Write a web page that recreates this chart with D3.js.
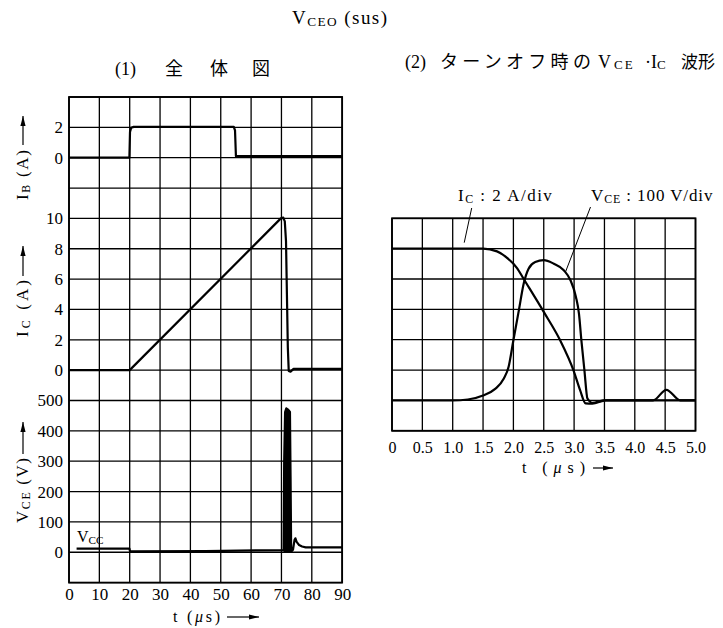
<!DOCTYPE html>
<html>
<head>
<meta charset="utf-8">
<script src="https://cdn.jsdelivr.net/npm/d3@7"></script>
<style>
  body { margin: 0; background: #fff; }
  svg text { font-family: "Liberation Serif", "Times New Roman", Times, "DejaVu Serif", serif; fill: #000; }
  svg .jp { font-family: "Noto Sans CJK JP", sans-serif; }
</style>
</head>
<body>
<script>
// (1) whole view, t in us
const leftTimeTicks = [0, 10, 20, 30, 40, 50, 60, 70, 80, 90]
const ibTicks = [0, 2]
const icTicks = [0, 2, 4, 6, 8, 10]
const vceTicks = [0, 100, 200, 300, 400, 500]

const ibTime = [0, 19.9, 20.1, 20.5, 21.3, 54.3, 54.7, 55.0, 90]
const ibAmp  = [0, 0, 1.7, 1.97, 2.03, 2.03, 1.8, 0.1, 0.1]

const icTime = [0, 20, 69.8, 70.6, 71.1, 71.5, 71.8, 72.1, 72.4, 73.0, 74.0, 90]
const icAmp  = [0, 0, 10, 10.05, 9.8, 8.5, 5, 1.5, -0.05, -0.1, 0.08, 0.08]

const vceTime = [2.5, 19.9, 20.1, 45, 70.7, 70.9, 71.2, 71.6, 72.2, 72.8, 73.0, 73.2, 73.8, 74.3, 74.6, 75.0, 75.8, 76.8, 78.0, 90]
const vceVolt = [12, 12, 3, 4, 7, 300, 462, 474, 470, 462, 250, 2, 8, 40, 46, 34, 24, 19, 16, 16]

// (2) turn-off waveforms, t in us
const rightTimeTicks = [0, 0.5, 1.0, 1.5, 2.0, 2.5, 3.0, 3.5, 4.0, 4.5, 5.0]
const rightTickLabels = ["0", "0.5", "1.0", "1.5", "2.0", "2.5", "3.0", "3.5", "4.0", "4.5", "5.0"]

const offIcTime = [0, 1.5, 1.73, 1.9, 2.06, 2.17, 2.5, 2.77, 2.99, 3.1, 3.19, 3.3, 3.52, 5.0]
const offIcAmp  = [10, 10, 9.82, 9.38, 8.72, 8.0, 5.83, 3.96, 1.98, 0.66, -0.2, -0.22, 0, 0]

const offVceTime = [0, 1.0, 1.25, 1.5, 1.7, 1.84, 1.92, 2.0, 2.09, 2.17, 2.25, 2.36, 2.5, 2.66, 2.83, 2.94, 3.03, 3.08, 3.12, 3.17, 3.22, 3.3, 3.5, 4.3, 4.52, 4.75, 5.0]
const offVceVolt = [0, 0, 3, 16, 38, 71, 110, 198, 297, 385, 434, 456, 462, 451, 429, 396, 341, 286, 198, 99, 6, -8, 0, 0, 35, 0, 0]

const width = 723, height = 628
const cell = 30.35
const serif = "'Liberation Serif', 'Times New Roman', Times, 'DejaVu Serif', serif"

const svg = d3.select("body")
              .append("svg")
                  .attr("width", width)
                  .attr("height", height)
                  .attr("font-family", serif)

svg.append("defs")
   .append("marker")
       .attr("id", "arrowHead")
       .attr("viewBox", "0 -3 10 6")
       .attr("refX", 10)
       .attr("refY", 0)
       .attr("orient", "auto")
       .attr("markerUnits", "userSpaceOnUse")
       .attr("markerWidth", 10)
       .attr("markerHeight", 6)
   .append("path")
       .attr("d", "M 0,-2.6 L 10,0 L 0,2.6 Z")
       .attr("fill", "#000")

// text with small subscripts
function rich(text, parts, size) {
    let shift = 0
    parts.forEach(([s, sub]) => {
        const d = sub ? 1.5 : 0
        text.append("tspan")
            .attr("font-size", sub ? size * 0.7 : size)
            .attr("dy", d - shift)
            .text(s)
        shift = d
    })
    return text
}

// scales
const xL = d3.scaleLinear().domain([0, 90]).range([69, 69 + 9 * cell])
const rowL = d3.scaleLinear().domain([0, 16]).range([97, 97 + 16 * cell])
const yIB = d3.scaleLinear().domain([0, 2]).range([rowL(2), rowL(1)])
const yIC = d3.scaleLinear().domain([0, 10]).range([rowL(9), rowL(4)])
const yVCE = d3.scaleLinear().domain([0, 500]).range([rowL(15), rowL(10)])

const xR = d3.scaleLinear().domain([0, 5]).range([392, 392 + 10 * cell])
const rowR = d3.scaleLinear().domain([0, 7]).range([218.3, 218.3 + 7 * cell])
const yRI = d3.scaleLinear().domain([0, 10]).range([rowR(6), rowR(1)])
const yRV = d3.scaleLinear().domain([0, 500]).range([rowR(6), rowR(1)])

function grid(xs, xTicks, rows, nRows) {
    const g = svg.append("g")
    g.selectAll(".v")
        .data(xTicks)
        .enter()
        .append("line")
            .attr("x1", d => xs(d)).attr("x2", d => xs(d))
            .attr("y1", rows(0)).attr("y2", rows(nRows))
            .attr("stroke", "#000")
            .attr("stroke-width", 1.3)
    g.selectAll(".h")
        .data(d3.range(nRows + 1))
        .enter()
        .append("line")
            .attr("x1", xs.range()[0]).attr("x2", xs.range()[1])
            .attr("y1", d => rows(d)).attr("y2", d => rows(d))
            .attr("stroke", "#000")
            .attr("stroke-width", 1.3)
    g.append("rect")
        .attr("x", xs.range()[0]).attr("y", rows(0))
        .attr("width", xs.range()[1] - xs.range()[0])
        .attr("height", rows(nRows) - rows(0))
        .attr("fill", "none")
        .attr("stroke", "#000")
        .attr("stroke-width", 1.8)
}

grid(xL, leftTimeTicks, rowL, 16)
grid(xR, rightTimeTicks, rowR, 7)

// axes (labels only)
function styleAxis(g, size) {
    g.select(".domain").remove()
    g.attr("font-family", serif).attr("font-size", size)
    g.selectAll("text").attr("fill", "#000")
}

svg.append("g")
    .attr("transform", "translate(0," + rowL(16) + ")")
    .call(d3.axisBottom(xL).tickValues(leftTimeTicks).tickSize(0).tickPadding(5))
    .call(g => styleAxis(g, 17))

svg.append("g")
    .attr("transform", "translate(0," + rowR(7) + ")")
    .call(d3.axisBottom(xR).tickValues(rightTimeTicks).tickSize(0).tickPadding(10.5)
            .tickFormat((d, i) => rightTickLabels[i]))
    .call(g => styleAxis(g, 16))

const leftAxes = [[yIB, ibTicks], [yIC, icTicks], [yVCE, vceTicks]]
leftAxes.forEach(([ys, ticks]) => {
    svg.append("g")
        .attr("transform", "translate(" + xL(0) + ",0)")
        .call(d3.axisLeft(ys).tickValues(ticks).tickSize(0).tickPadding(6).tickFormat(d3.format("d")))
        .call(g => styleAxis(g, 17))
})

// curves
const lineL = (ys) => d3.line().x(d => xL(d[0])).y(d => ys(d[1]))
const lineR = (ys) => d3.line().x(d => xR(d[0])).y(d => ys(d[1])).curve(d3.curveMonotoneX)

const ibPts = d3.zip(ibTime, ibAmp)
const icPts = d3.zip(icTime, icAmp)
const vcePts = d3.zip(vceTime, vceVolt)

const curves = [
    [ibPts, lineL(yIB)],
    [icPts, lineL(yIC)],
    [vcePts, lineL(yVCE)],
    [d3.zip(offIcTime, offIcAmp), lineR(yRI)],
    [d3.zip(offVceTime, offVceVolt), lineR(yRV)]
]

svg.selectAll(".curve")
    .data(curves)
    .enter()
    .append("path")
        .attr("class", "curve")
        .attr("fill", "none")
        .attr("stroke", "#000")
        .attr("stroke-width", 2.2)
        .attr("stroke-linejoin", "round")
        .attr("d", d => d[1](d[0]))

// the fast oscillation at turn-off prints as a solid spike
svg.append("path")
    .attr("fill", "#000")
    .attr("d", d3.area()
        .x(d => xL(d[0]))
        .y0(yVCE(0))
        .y1(d => yVCE(d[1]))(vcePts.filter(d => d[0] >= 70.7 && d[0] <= 73.2)))

// titles
rich(svg.append("text").attr("x", 292).attr("y", 24).attr("textLength", 95),
     [["V"], ["CEO", 1], [" (sus)"]], 19)

const sub1 = svg.append("text").attr("y", 75).attr("font-size", 18)
sub1.append("tspan").attr("x", 115).text("(1)")
sub1.append("tspan").attr("x", 165).attr("class", "jp").text("全")
sub1.append("tspan").attr("x", 210).attr("class", "jp").text("体")
sub1.append("tspan").attr("x", 252).attr("class", "jp").text("図")

const sub2 = svg.append("text").attr("y", 68).attr("font-size", 18)
sub2.append("tspan").attr("x", 405).text("(2)")
sub2.append("tspan").attr("x", 440).attr("class", "jp").attr("letter-spacing", 4.3).text("ターンオフ時の")
sub2.append("tspan").attr("x", 598).text("V")
sub2.append("tspan").attr("x", 614).attr("dy", 1).attr("font-size", 13).attr("letter-spacing", 2).text("CE")
sub2.append("tspan").attr("x", 645).attr("dy", -1).text("·I")
sub2.append("tspan").attr("dy", 1).attr("font-size", 13).text("C")
sub2.append("tspan").attr("x", 681).attr("dy", -1).attr("class", "jp").attr("font-size", 17).text("波形")

// annotations in (2)
rich(svg.append("text").attr("x", 458).attr("y", 201).attr("letter-spacing", 1.5),
     [["I"], ["C", 1], [" : 2 A/div"]], 17)
rich(svg.append("text").attr("x", 591).attr("y", 201).attr("letter-spacing", 0.9),
     [["V"], ["CE", 1], [" : 100 V/div"]], 17)

const pointers = [
    [[471.7, 208], [xR(1.19), yRI(10) - 6]],
    [[590.5, 207], [xR(2.86), yRV(424)]]
]
svg.selectAll(".pointer")
    .data(pointers)
    .enter()
    .append("line")
        .attr("x1", d => d[0][0]).attr("y1", d => d[0][1])
        .attr("x2", d => d[1][0]).attr("y2", d => d[1][1])
        .attr("stroke", "#000")
        .attr("stroke-width", 1)

rich(svg.append("text").attr("x", 77).attr("y", 542), [["V"], ["CC", 1]], 16)

// axis titles with arrows
function axisTitle(x, y, rot, parts, len, gap, arrow) {
    const g = svg.append("g").attr("transform", "translate(" + x + "," + y + ") rotate(" + rot + ")")
    rich(g.append("text").attr("textLength", len), parts, 17)
    g.append("line")
        .attr("x1", len + gap).attr("x2", len + gap + arrow)
        .attr("y1", -5).attr("y2", -5)
        .attr("stroke", "#000")
        .attr("stroke-width", 1.2)
        .attr("marker-end", "url(#arrowHead)")
}

axisTitle(28, 200, -90, [["I"], ["B", 1], [" (A)"]], 50, 5, 29)
axisTitle(28, 337, -90, [["I"], ["C", 1], [" (A)"]], 57, 4, 30)
axisTitle(28, 523, -90, [["V"], ["CE", 1], [" (V)"]], 65, 4, 32)

function timeTitle(x, y, len, gap, arrow) {
    const t = svg.append("text").attr("x", x).attr("y", y).attr("font-size", 16).attr("textLength", len)
    t.append("tspan").text("t (")
    t.append("tspan").attr("font-style", "italic").text("μ")
    t.append("tspan").text("s)")
    svg.append("line")
        .attr("x1", x + len + gap).attr("x2", x + len + gap + arrow)
        .attr("y1", y - 5).attr("y2", y - 5)
        .attr("stroke", "#000")
        .attr("stroke-width", 1.2)
        .attr("marker-end", "url(#arrowHead)")
}

timeTitle(173, 622, 47, 7, 32)
timeTitle(522, 473, 63, 8, 20)
</script>
</body>
</html>
